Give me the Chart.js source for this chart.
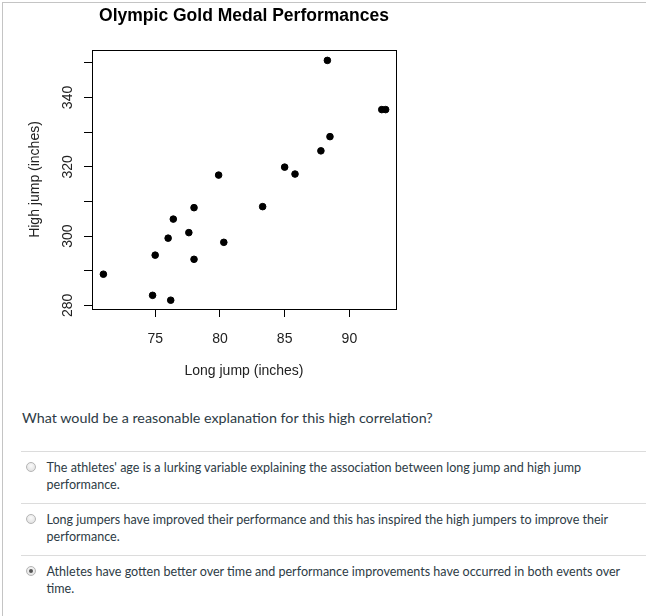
<!DOCTYPE html>
<html>
<head>
<meta charset="utf-8">
<script src="https://cdn.jsdelivr.net/npm/chart.js@4/dist/chart.umd.min.js"></script>
<style>
  html, body { margin: 0; padding: 0; background: #fff; }
  body { width: 646px; height: 616px; position: relative; overflow: hidden; font-family: Lato, "Noto Sans", sans-serif; color: #2d3b45; }
  #frame { position: absolute; left: 2px; top: 2px; right: 0; bottom: 0; border-left: 1px solid #c4c4c4; border-top: 1px solid #c4c4c4; }
  #chartBox { position: absolute; left: 0; top: 0; }
  .question { position: absolute; left: 22px; top: 409px; font-size: 14.3px; line-height: 18px; }
  .sep { position: absolute; left: 21px; right: 0; height: 1px; background: #dcdcdc; }
  .opt { position: absolute; left: 46.5px; font-size: 12.55px; line-height: 17px; white-space: nowrap; }
  .radio { position: absolute; left: 26px; width: 8px; height: 8px; border-radius: 50%; border: 1px solid #b5b5b5; background: radial-gradient(circle at 50% 35%, #fafafa, #dcdcdc); }
  .radio.on::after { content: ""; position: absolute; left: 2px; top: 2px; width: 4px; height: 4px; border-radius: 50%; background: #555; }
</style>
</head>
<body>
<div id="frame"></div>
<div id="chartBox"><canvas id="myChart" width="420" height="395"></canvas></div>

<div class="question">What would be a reasonable explanation for this high correlation?</div>

<div class="sep" style="top:451px"></div>
<div class="radio" style="top:462px"></div>
<div class="opt" style="top:459px">The athletes' age is a lurking variable explaining the association between long jump and high jump<br>performance.</div>

<div class="sep" style="top:503px"></div>
<div class="radio" style="top:514px"></div>
<div class="opt" style="top:511px">Long jumpers have improved their performance and this has inspired the high jumpers to improve their<br>performance.</div>

<div class="sep" style="top:555px"></div>
<div class="radio on" style="top:566px"></div>
<div class="opt" style="top:563px">Athletes have gotten better over time and performance improvements have occurred in both events over<br>time.</div>

<script>
// long jump (x) and high jump (y), inches
const longJump = [71.0, 74.8, 76.2, 75.0, 76.0, 76.4, 77.6, 78.0, 78.0, 79.9, 80.3, 83.3, 85.0, 85.8, 87.8, 88.5, 88.3, 92.5, 92.8];
const highJump = [289.0, 282.9, 281.5, 294.5, 299.4, 304.9, 301.0, 308.2, 293.3, 317.6, 298.2, 308.5, 319.9, 317.9, 324.6, 328.7, 350.7, 336.5, 336.5];
const xTicks = [75, 80, 85, 90];
const yTicks = [280, 290, 300, 310, 320, 330, 340, 350];
const yLabels = [280, 300, 320, 340];

const points = longJump.map((x, i) => ({ x: x, y: highJump[i] }));

// R style box around the plot region
const boxPlugin = {
    id: 'box',
    afterDraw(chart) {
        const a = chart.chartArea;
        const ctx = chart.ctx;
        ctx.save();
        ctx.strokeStyle = '#000';
        ctx.lineWidth = 1;
        ctx.strokeRect(Math.round(a.left) + 0.5, Math.round(a.top) + 0.5, Math.round(a.right - a.left), Math.round(a.bottom - a.top));
        ctx.restore();
    }
};

const fontFam = '"Liberation Sans", Arial, sans-serif';

const ctx = document.getElementById('myChart').getContext('2d');
new Chart(ctx, {
    type: 'scatter',
    data: {
        datasets: [{
            data: points,
            backgroundColor: '#000',
            borderColor: '#000',
            pointRadius: 3.3,
            pointHoverRadius: 3.3
        }]
    },
    options: {
        responsive: false,
        animation: false,
        layout: { padding: { top: 0, right: 24, bottom: 0, left: 0 } },
        plugins: {
            legend: { display: false },
            tooltip: { enabled: false },
            title: {
                display: true,
                fullSize: false,
                text: 'Olympic Gold Medal Performances',
                color: '#000',
                font: { family: fontFam, size: 17.5, weight: 'bold' },
                padding: { top: 6, bottom: 23 }
            }
        },
        scales: {
            x: {
                type: 'linear',
                min: 70.12,
                max: 93.6,
                afterBuildTicks: s => { s.ticks = xTicks.map(v => ({ value: v })); },
                afterFit: s => { s.height = 86; },
                grid: { drawOnChartArea: false, drawTicks: true, tickLength: 8, color: '#000' },
                border: { display: true, color: '#000' },
                ticks: { color: '#222', padding: 14, font: { family: fontFam, size: 14 }, autoSkip: false, maxRotation: 0 },
                title: { display: true, text: 'Long jump (inches)', color: '#222', font: { family: fontFam, size: 14 }, padding: { top: 0, bottom: 15.6 } }
            },
            y: {
                type: 'linear',
                min: 278.96,
                max: 353.7,
                afterBuildTicks: s => { s.ticks = yTicks.map(v => ({ value: v })); },
                afterFit: s => { s.width = 92; },
                grid: { drawOnChartArea: false, drawTicks: true, tickLength: 8, color: '#000' },
                border: { display: true, color: '#000' },
                ticks: {
                    color: '#222',
                    padding: 4,
                    crossAlign: 'center',
                    minRotation: 90,
                    maxRotation: 90,
                    autoSkip: false,
                    font: { family: fontFam, size: 14 },
                    callback: v => yLabels.includes(v) ? String(v) : ''
                },
                title: { display: true, text: 'High jump (inches)', color: '#222', font: { family: fontFam, size: 14 }, padding: { top: 27, bottom: 0 } }
            }
        }
    },
    plugins: [boxPlugin]
});
</script>
</body>
</html>
